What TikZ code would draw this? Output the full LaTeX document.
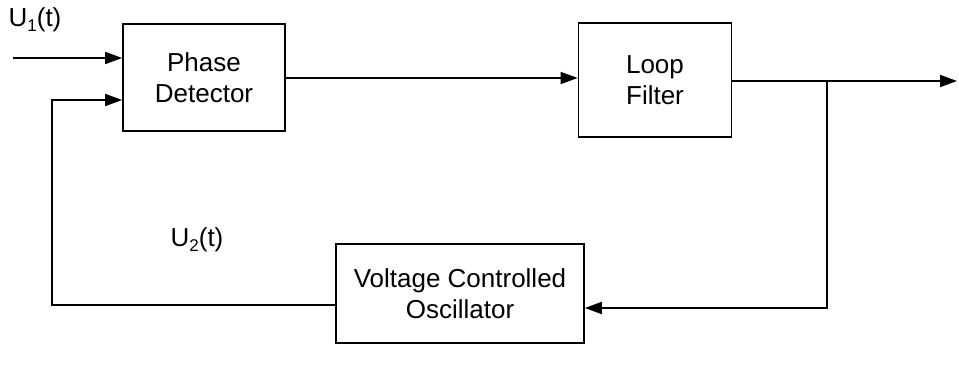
\documentclass[tikz,border=0pt]{standalone}
\usepackage{fontspec}
\setmainfont{Liberation Sans}
\usetikzlibrary{arrows.meta}
\begin{document}
\begin{tikzpicture}[x=1pt,y=-1pt,
  blk/.style={draw, line width=1.7pt, inner sep=0pt, align=center, font=\fontsize{26}{31}\selectfont},
  conn/.style={line width=1.7pt},
  arr/.style={conn, -{Triangle[length=17pt,width=12pt]}},
  lbl/.style={font=\fontsize{26}{31}\selectfont, inner sep=0pt}]
\useasboundingbox (0,0) rectangle (959,371);
\node[blk, minimum width=162pt, minimum height=107pt] (pd) at (204,77.5) {Phase\\Detector};
\node[blk, minimum width=153pt, minimum height=114pt] (lf) at (655,80) {Loop\\Filter};
\node[blk, minimum width=248pt, minimum height=99pt] (vco) at (460,293.5) {Voltage Controlled\\Oscillator};
\coordinate (in) at (13,58);
\coordinate (out) at (957,81);
\coordinate (j) at (827,81);
\coordinate (jb) at (827,308);
\coordinate (fb) at (52,305);
\coordinate (fbt) at (52,100);
\node[lbl] (u1) at (35,20) {U\raisebox{-0.35ex}{\fontsize{17}{20}\selectfont 1}(t)};
\node[lbl] (u2) at (197,240) {U\raisebox{-0.35ex}{\fontsize{17}{20}\selectfont 2}(t)};
\draw[arr] (in) -- (in -| pd.west);
\draw[arr] (pd.east |- 0,78) -- (lf.west |- 0,78);
\draw[arr] (lf.east |- j) -- (out);
\draw[arr] (j) -- (jb) -- (vco.east |- jb);
\draw[arr] (vco.west |- fb) -- (fb) -- (fbt) -- (fbt -| pd.west);
\end{tikzpicture}
\end{document}
